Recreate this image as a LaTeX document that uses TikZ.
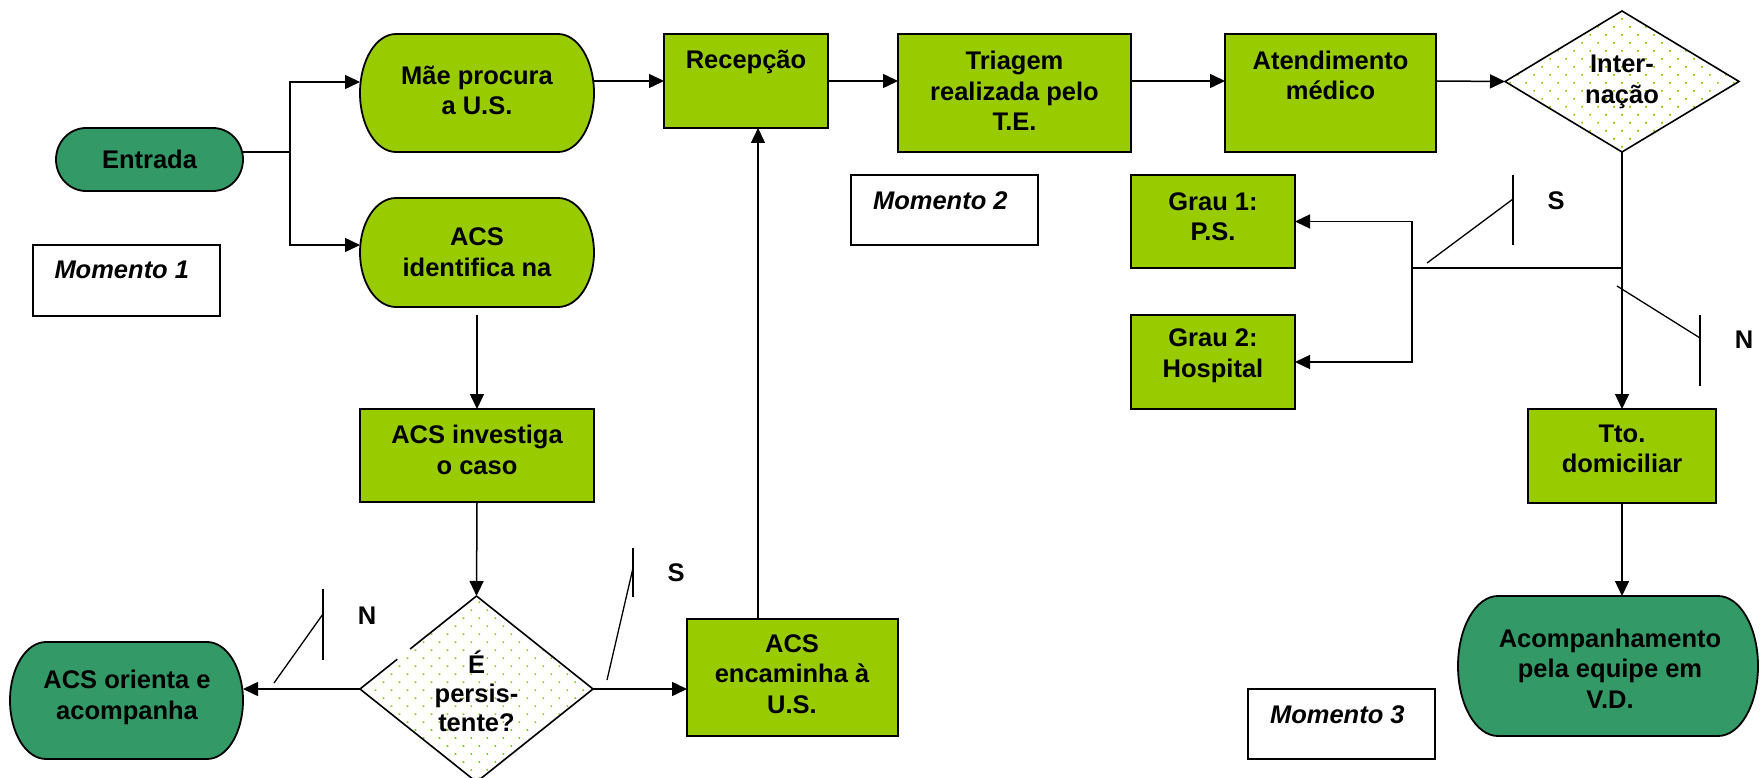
\documentclass[tikz,border=0pt]{standalone}
\usepackage{fontspec}
\setmainfont{Liberation Sans}
\usetikzlibrary{arrows.meta,patterns.meta,shapes.geometric,calc}
\definecolor{lgreen}{RGB}{153,204,0}
\definecolor{dgreen}{RGB}{51,153,102}
\definecolor{dotgreen}{RGB}{140,200,0}

% terminator outline: node name, x radius, y radius, fill colour
\newcommand\drawterm[4]{%
  \path[termline, fill=#4] ([xshift=#2]#1.north west) -- ([xshift=-#2]#1.north east)
    arc[start angle=90, end angle=-90, x radius=#2, y radius=#3]
    -- ([xshift=#2]#1.south west)
    arc[start angle=270, end angle=90, x radius=#2, y radius=#3] -- cycle;}

\begin{document}
\begin{tikzpicture}[x=1pt,y=-1pt,
  every node/.style={inner sep=0pt, outer sep=0pt},
  txt/.style={font=\fontsize{25.5}{30.5}\selectfont\bfseries, align=center},
  momtxt/.style={font=\fontsize{25.5}{30.5}\selectfont\bfseries\itshape, anchor=west},
  lbl/.style={font=\fontsize{25.5}{30.5}\selectfont\bfseries},
  box/.style={draw, line width=1.8pt, fill=lgreen},
  plain/.style={draw, line width=1.4pt, fill=white},
  slot/.style={draw=none},
  termline/.style={draw=black, line width=1.8pt},
  border/.style={line width=1.6pt, line join=miter},
  dotted fill/.style={pattern={Dots[distance=11.3pt, angle=45, radius=1.15pt]}, pattern color=dotgreen},
  conn/.style={line width=1.5pt},
  arr/.style={-{Triangle[length=15pt,width=14pt]}},
  flagline/.style={line width=1.3pt}]

\useasboundingbox (0,0) rectangle (1760,778);

% ---- Momento 1 ----
\node[slot, minimum width=187pt, minimum height=63pt] (entrada) at (149.5,159.5) {};
\drawterm{entrada}{30pt}{31.5pt}{dgreen}
\node[txt] (t-entrada) at (149.5,159.5) {Entrada};

\node[slot, minimum width=234pt, minimum height=118pt] (mae) at (477,93) {};
\drawterm{mae}{36pt}{59pt}{lgreen}
\node[txt] (t-mae) at (477,90.5) {Mãe procura\\a U.S.};

\node[slot, minimum width=234pt, minimum height=109pt] (acsid) at (477,252.5) {};
\drawterm{acsid}{36pt}{54.5pt}{lgreen}
\node[txt] (t-acsid) at (477,252) {ACS\\identifica na};

\node[plain, minimum width=187pt, minimum height=71pt] (mom1) at (126.5,280.5) {};
\node[momtxt] (t-mom1) at (54.5,270) {Momento 1};

\node[box, minimum width=234pt, minimum height=93pt] (invest) at (477,455.5) {};
\node[txt] (t-invest) at (477,450) {ACS investiga\\o caso};

\node[shape=diamond, minimum width=233pt, minimum height=186pt, dotted fill] (persist) at (476.5,689) {};
\draw[border] (persist.north) -- ($(persist.north)!0.57!(persist.west)$);
\draw[border] ($(persist.north)!0.68!(persist.west)$) -- (persist.west) -- (persist.south)
  -- (persist.east) -- (persist.north);
\node[txt, font=\fontsize{25.5}{29}\selectfont\bfseries] (t-persist) at (476.5,691) {É\\persis-\\tente?};

\node[slot, minimum width=233pt, minimum height=117pt] (orienta) at (126.5,700.5) {};
\drawterm{orienta}{36pt}{58.5pt}{dgreen}
\node[txt] (t-orienta) at (127,697.5) {ACS orienta e\\acompanha};

\node[box, minimum width=211pt, minimum height=117pt] (encam) at (792.5,677.5) {};
\node[txt] (t-encam) at (792,674) {ACS\\encaminha à\\U.S.};

% ---- Momento 2 ----
\node[box, minimum width=164pt, minimum height=94pt] (recep) at (746,81) {};
\node[txt] (t-recep) at (746,62) {Recepção};

\node[box, minimum width=233pt, minimum height=118pt] (triagem) at (1014.5,93) {};
\node[txt] (t-triagem) at (1014.5,91) {Triagem\\realizada pelo\\T.E.};

\node[plain, minimum width=187pt, minimum height=70pt] (mom2) at (944.5,210) {};
\node[momtxt] (t-mom2) at (873,201) {Momento 2};

% ---- Momento 3 ----
\node[box, minimum width=211pt, minimum height=118pt] (atend) at (1330.5,93) {};
\node[txt] (t-atend) at (1330.5,75.5) {Atendimento\\médico};

\node[shape=diamond, minimum width=234pt, minimum height=141pt, dotted fill, draw, border] (intern) at (1622,81.5) {};
\node[txt] (t-intern) at (1622,82) {Inter-\\nação};

\node[box, minimum width=164pt, minimum height=93pt] (grau1) at (1213,221.5) {};
\node[txt] (t-grau1) at (1213,216.5) {Grau 1:\\P.S.};

\node[box, minimum width=164pt, minimum height=94pt] (grau2) at (1213,362) {};
\node[txt] (t-grau2) at (1213,355.5) {Grau 2:\\Hospital};

\node[box, minimum width=188pt, minimum height=94pt] (tto) at (1622,456) {};
\node[txt] (t-tto) at (1622,449) {Tto.\\domiciliar};

\node[slot, minimum width=300pt, minimum height=140pt] (acomp) at (1608,666) {};
\drawterm{acomp}{40pt}{70pt}{dgreen}
\node[txt] (t-acomp) at (1610,668.5) {Acompanhamento\\pela equipe em\\V.D.};

\node[plain, minimum width=187pt, minimum height=70pt] (mom3) at (1341.5,724) {};
\node[momtxt] (t-mom3) at (1270,715) {Momento 3};

% ---- connectors ----
\coordinate (split) at (290,152);
\draw[conn] ([yshift=7.5pt]entrada.east) -- (split);
\draw[conn,arr] (split) |- ([yshift=11pt]mae.west);
\draw[conn,arr] (split) |- ([yshift=7.5pt]acsid.west);
\draw[conn,arr] ([yshift=12pt]mae.east) -- (recep.west);
\draw[conn,arr] (recep.east) -- (triagem.west |- recep.east);
\draw[conn,arr] ([yshift=12pt]triagem.east) -- ([yshift=12pt]atend.west);
\draw[conn,arr] ([yshift=12pt]atend.east) -- (intern.west);

\draw[conn,arr] ([yshift=-8pt]acsid.south) -- (invest.north);
\draw[conn,arr] (invest.south) -- (persist.north);
\draw[conn,arr] (persist.west) -- (persist.west -| orienta.east);
\draw[conn,arr] (persist.east) -- (persist.east -| encam.west);
\coordinate (rise) at (758,0);
\draw[conn,arr] (encam.north -| rise) -- (recep.south -| rise);

\coordinate (fork) at (1622,268);
\coordinate (spine) at (1412,268);
\draw[conn,arr] (intern.south) -- (tto.north);
\draw[conn] (fork) -- (spine);
\draw[conn,arr] (spine) |- (grau1.east);
\draw[conn,arr] (spine) |- (grau2.east);
\draw[conn,arr] (tto.south) -- (acomp.north -| tto.south);

% ---- yes / no flags ----
\draw[flagline] (274,683) -- (323,614);
\draw[flagline] (323,589) -- (323,660);
\node[lbl] (n-left) at (367,616) {N};

\draw[flagline] (607,680) -- (633,568);
\draw[flagline] (633,548) -- (633,597);
\node[lbl] (s-left) at (676,573) {S};

\draw[flagline] (1427,263) -- (1513,199);
\draw[flagline] (1513,175) -- (1513,245);
\node[lbl] (s-right) at (1556,201) {S};

\draw[flagline] (1617,286) -- (1700,338);
\draw[flagline] (1700,315) -- (1700,386);
\node[lbl] (n-right) at (1744,340) {N};
\end{tikzpicture}
\end{document}
